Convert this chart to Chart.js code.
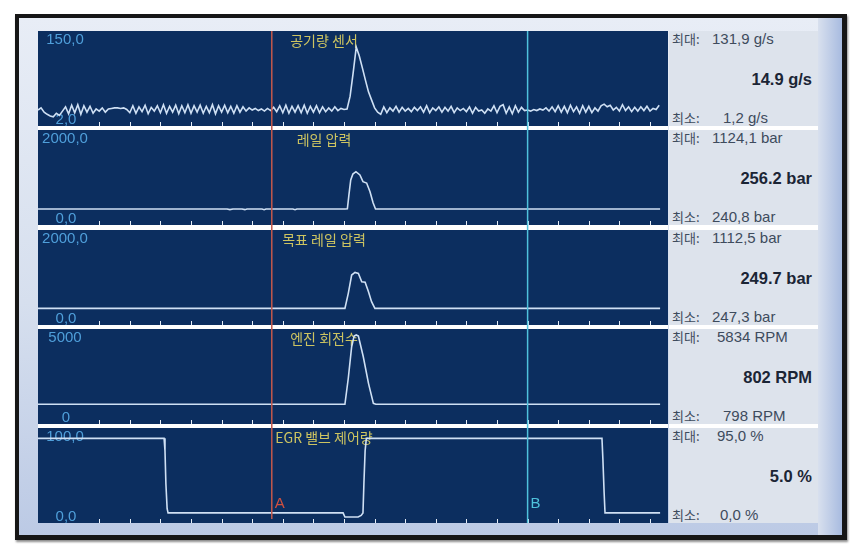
<!DOCTYPE html>
<html><head><meta charset="utf-8">
<script src="https://cdn.jsdelivr.net/npm/chart.js@4/dist/chart.umd.min.js"></script>
<style>
html,body{margin:0;padding:0;background:#fff;width:861px;height:555px;overflow:hidden;position:relative;}
#frame{position:absolute;left:15px;top:14px;width:832px;height:526px;box-sizing:border-box;border:4px solid #161616;border-bottom-width:5px;border-right-width:5px;
 background:linear-gradient(to bottom,#e8edf6 0%,#d6dfee 55%,#bccae5 100%);box-shadow:1px 2px 2px rgba(0,0,0,.45);}
#rstrip{position:absolute;left:818px;top:18px;width:24px;height:517px;background:linear-gradient(to right,#d8e0ee,#a8bbe0);}
#side{position:absolute;left:669px;top:31px;width:149px;height:492px;background:#dde3ec;overflow:hidden;}
.sep{position:absolute;left:669px;width:149px;background:#fff;}
canvas{position:absolute;left:38px;}
.row{position:absolute;white-space:pre;color:#3e4b5d;font-family:"Liberation Sans",Arial,sans-serif;font-size:15px;line-height:16px;}
.k{font-family:"Noto Sans CJK KR",sans-serif;font-size:13px;}
.big{position:absolute;right:6px;white-space:pre;color:#1b2535;font-family:"Liberation Sans",Arial,sans-serif;font-weight:bold;font-size:16.5px;line-height:20px;}
</style></head>
<body>
<div id="frame"></div>
<div id="rstrip"></div>
<div id="side"></div>
<div id="host"></div>
<script>
// ---- texts ----
const panelTitles = ['공기량 센서', '레일 압력', '목표 레일 압력', '엔진 회전수', 'EGR 밸브 제어량'];
const yTopLabels = ['150,0', '2000,0', '2000,0', '5000', '100,0'];
const yBottomLabels = ['2,0', '0,0', '0,0', '0', '0,0'];
const maxTexts = ['131,9 g/s', '1124,1 bar', '1112,5 bar', '5834 RPM', '95,0 %'];
const currentTexts = ['14.9 g/s', '256.2 bar', '249.7 bar', '802 RPM', '5.0 %'];
const minTexts = ['1,2 g/s', '240,8 bar', '247,3 bar', '798 RPM', '0,0 %'];
const cursorA = 7.64, cursorB = 16.0;

// ---- series ----
// 공기량 센서 (g/s), one sample every 0.1 x-unit
const mafValues = [
 14,18,10,6,3,1.2,8,4,12,20, 7,23,9,24,6,22,10,21,8,16,
 12,18,10,16,17,18,18,17,18,15, 9,22,8,20,11,23,7,19,12,22,
 9,24,8,21,10,23,7,22,9,24, 8,22,10,23,8,21,9,24,7,22,
 10,23,9,21,8,22,10,20,12,18, 14,17,13,16,12,17,13,19,11,22,
 9,23,8,21,10,22,9,23,8,21, 10,22,9,20,11,18,12,20,13,17,
 15,
 16,40,84,131.9,115,93,70,48,33,18,
 10,6,20,9,18,12,21,10,19,12, 17,11,19,13,20,10,22,9,18,13,
 20,10,19,12,21,9,18,13,17,11, 20,8,19,12,14,8,16,12,22,9,
 21,24,8,20,7,22,10,19,13,14, 12,15,13,16,14,18,12,20,11,22,
 10,21,9,23,11,20,8,22,10,21, 9,18,12,22,25,20,23,14,19,12,
 24,13,20,11,19,12,20,13,21,12, 17,15,23
];
const railPressure = [[0,256],[6.18,256],[6.27,241],[6.37,256],[6.67,256],[6.76,241],[6.83,256],[7.32,256],[7.39,241],[7.45,256],
 [8.33,256],[8.40,241],[8.46,256],[10.03,256],[10.11,262],[10.16,580],[10.22,930],[10.29,1070],[10.39,1124.1],[10.52,1047],
 [10.62,891],[10.74,860],[10.85,658],[10.95,400],[11.03,256],[20.33,256]];
const targetRailPressure = [[0,249.7],[10.03,249.7],[10.14,610],[10.25,1050],[10.36,1112.5],[10.47,1090],[10.58,890],[10.69,875],
 [10.80,650],[10.90,410],[11.01,249.7],[20.33,249.7]];
const engineRpm = [[0,802],[10.03,802],[10.14,2690],[10.25,4980],[10.33,5750],[10.40,5834],[10.47,5750],[10.63,4250],[10.80,2320],
 [10.96,870],[11.04,802],[20.33,802]];
const egrDuty = [[0,95],[4.12,95],[4.15,80],[4.18,40],[4.22,10],[4.25,5],[9.97,5],[10.03,0],[10.46,0],[10.56,2],[10.62,5],
 [10.65,40],[10.69,80],[10.73,95],[18.43,95],[18.46,70],[18.50,30],[18.53,5],[20.33,5]];

const series = [
  mafValues.map((v, i) => ({x: i * 0.1, y: v})),
  railPressure.map(p => ({x: p[0], y: p[1]})),
  targetRailPressure.map(p => ({x: p[0], y: p[1]})),
  engineRpm.map(p => ({x: p[0], y: p[1]})),
  egrDuty.map(p => ({x: p[0], y: p[1]}))
];

// ---- layout / style ----
const tops = [31, 130, 230, 329, 428];
const PH = 95;
const yRanges = [[-15.9, 162], [-116, 2093], [-151, 2132], [-632, 6267], [-7.2, 107.5]];
const maxNumX = [43, 43, 43, 48, 48];
const minNumX = [54, 43, 43, 54, 51];
const NAVY = '#0c2e5f';

const host = document.getElementById('host');
const side = document.getElementById('side');

for (let i = 0; i < 5; i++) {
  const top = tops[i];
  const H = i < 4 ? tops[i + 1] - top : PH;
  // side separators
  if (i < 4) {
    const s = document.createElement('div');
    s.className = 'sep'; s.style.top = (top + PH) + 'px'; s.style.height = (H - PH) + 'px';
    document.body.appendChild(s);
  }
  // side texts
  const r1 = document.createElement('div');
  r1.className = 'row'; r1.style.left = '3px'; r1.style.top = (top - 31 + 0) + 'px';
  r1.innerHTML = '<span class="k">최대:</span>';
  const n1 = document.createElement('span'); n1.className = 'row'; n1.style.left = maxNumX[i] + 'px'; n1.style.top = (top - 31) + 'px'; n1.textContent = maxTexts[i];
  const b = document.createElement('div');
  b.className = 'big'; b.style.top = (top - 31 + 38) + 'px'; b.textContent = currentTexts[i];
  const r2 = document.createElement('div');
  r2.className = 'row'; r2.style.left = '3px'; r2.style.top = (top - 31 + 79) + 'px';
  r2.innerHTML = '<span class="k">최소:</span>';
  const n2 = document.createElement('span'); n2.className = 'row'; n2.style.left = minNumX[i] + 'px'; n2.style.top = (top - 31 + 79) + 'px'; n2.textContent = minTexts[i];
  [r1, n1, b, r2, n2].forEach(e => side.appendChild(e));

  const cv = document.createElement('canvas');
  cv.width = 630; cv.height = H;
  cv.style.top = top + 'px'; cv.style.width = '630px'; cv.style.height = H + 'px';
  host.appendChild(cv);

  const idx = i;
  const panelPlugin = {
    id: 'panel' + i,
    beforeDraw(chart) {
      const c = chart.ctx;
      c.save();
      c.fillStyle = NAVY; c.fillRect(0, 0, 630, PH);
      c.fillStyle = '#ffffff'; c.fillRect(0, PH, 630, H - PH);
      c.restore();
    },
    beforeDatasetsDraw(chart) {
      const c = chart.ctx;
      c.save();
      c.textAlign = 'center'; c.textBaseline = 'middle';
      c.font = '15px "Liberation Sans", Arial, sans-serif';
      c.fillStyle = '#4f9fda';
      c.fillText(yTopLabels[idx], 27, 9);
      c.fillText(yBottomLabels[idx], 28, 88.5);
      c.font = '14px "Noto Sans CJK KR", sans-serif';
      c.fillStyle = '#cdc461';
      c.fillText(panelTitles[idx], 286, 9.5);
      c.restore();
    },
    afterDatasetsDraw(chart) {
      const c = chart.ctx, xs = chart.scales.x;
      c.save();
      c.strokeStyle = '#e6edf6'; c.lineWidth = 1;
      for (let v = 2; v <= 20; v++) {
        const px = Math.round(xs.getPixelForValue(v)) + 0.5;
        c.beginPath(); c.moveTo(px, PH - 4); c.lineTo(px, PH); c.stroke();
      }
      const ax = xs.getPixelForValue(cursorA), bx = xs.getPixelForValue(cursorB);
      c.lineWidth = 1.5;
      c.strokeStyle = '#c4594b';
      c.beginPath(); c.moveTo(ax, 0); c.lineTo(ax, idx === 4 ? PH - 4 : H); c.stroke();
      c.strokeStyle = '#4fc2dc';
      c.beginPath(); c.moveTo(bx, 0); c.lineTo(bx, H); c.stroke();
      if (idx === 4) {
        c.font = '15px "Liberation Sans", Arial, sans-serif';
        c.textAlign = 'left'; c.textBaseline = 'middle';
        c.fillStyle = '#d0503f'; c.fillText('A', ax + 3, 76);
        c.fillStyle = '#4fc2dc'; c.fillText('B', bx + 3, 76);
      }
      c.restore();
    }
  };

  new Chart(cv, {
    type: 'line',
    data: { datasets: [{ data: series[i], borderColor: '#cfe0f4', borderWidth: 1.6, pointRadius: 0, tension: 0, fill: false }] },
    options: {
      responsive: false, animation: false, devicePixelRatio: 1,
      layout: { padding: { left: 0, right: 0, top: 0, bottom: H - PH } },
      plugins: { legend: { display: false }, tooltip: { enabled: false } },
      scales: {
        x: { type: 'linear', min: 0, max: 20.588, display: false },
        y: { min: yRanges[i][0], max: yRanges[i][1], display: false }
      }
    },
    plugins: [panelPlugin]
  });
}
</script>
</body></html>
